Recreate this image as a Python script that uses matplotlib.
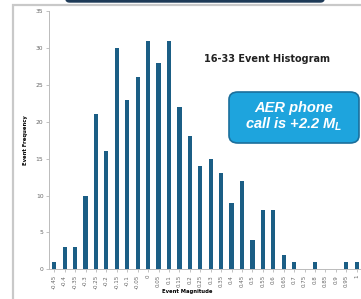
import matplotlib.pyplot as plt
import numpy as np
from matplotlib.patches import Rectangle, FancyBboxPatch

# data
magnitudes = ['-0.45', '-0.4', '-0.35', '-0.3', '-0.25', '-0.2', '-0.15', '-0.1', '-0.05', '0',
              '0.05', '0.1', '0.15', '0.2', '0.25', '0.3', '0.35', '0.4', '0.45', '0.5',
              '0.55', '0.6', '0.65', '0.7', '0.75', '0.8', '0.85', '0.9', '0.95', '1']
counts = [1, 3, 3, 10, 21, 16, 30, 23, 26, 31,
          28, 31, 22, 18, 14, 15, 13, 9, 12, 4,
          8, 8, 2, 1, 0, 1, 0, 0, 1, 1]
yticks = [0, 5, 10, 15, 20, 25, 30, 35]

plt.rcParams['mathtext.fontset'] = 'custom'
plt.rcParams['mathtext.it'] = 'Liberation Sans:italic:bold'
plt.rcParams['mathtext.rm'] = 'Liberation Sans:italic:bold'

W, H = 361, 299
fig = plt.figure(figsize=(W / 100, H / 100), dpi=100)
fig.patch.set_facecolor('white')

# outer frame and the navy box cut off at the top
fig.patches.append(Rectangle((13 / W, -0.05), 1.0, 1 - 5 / H + 0.05, transform=fig.transFigure,
                             fill=False, edgecolor='#c9c9c9', lw=1.6))
fig.patches.append(FancyBboxPatch((66 / W, 1 - 2 / H), 258 / W, 0.05,
                                  boxstyle='round,pad=0,rounding_size=0.01',
                                  transform=fig.transFigure, facecolor='#1d3a57',
                                  edgecolor='#1d3a57'))

ax = fig.add_axes([49 / W, (H - 269.3) / H, (362 - 49) / W, 258.3 / H])
x = np.arange(len(magnitudes))
ax.bar(x, counts, width=0.4, color='#1b5e85')
ax.set_xlim(-0.5, len(magnitudes) - 0.5)
ax.set_ylim(0, 35)
ax.set_yticks(yticks)
ax.set_yticklabels([str(v) for v in yticks], fontsize=4.3, color='#666666')
ax.set_xticks(x)
ax.set_xticklabels(magnitudes, rotation=90, fontsize=4.0, color='#666666')
ax.tick_params(axis='both', length=2, width=0.5, color='#aaaaaa', pad=2)
for s in ['top', 'right']:
    ax.spines[s].set_visible(False)
for s in ['left', 'bottom']:
    ax.spines[s].set_color('#bbbbbb')
    ax.spines[s].set_linewidth(0.7)

fig.text(25 / W, 1 - 140 / H, 'Event Frequency', rotation=90, ha='center', va='center',
         fontsize=3.8, fontweight='bold')
fig.text(187 / W, 1 - 292 / H, 'Event Magnitude', ha='center', va='center',
         fontsize=3.8, fontweight='bold')

fig.text(267 / W, 1 - 59 / H, '16-33 Event Histogram', ha='center', va='center',
         fontsize=7, fontweight='bold', color='#222222')

fig.patches.append(FancyBboxPatch((229 / W, 1 - 143 / H), 130 / W, 51 / H,
                                  boxstyle='round,pad=0,rounding_size=0.025',
                                  transform=fig.transFigure, facecolor='#1ea4dd',
                                  edgecolor='#1b6f9c', lw=1.2))
fig.text(294 / W, 1 - 117 / H, 'AER phone\ncall is +2.2 $M_L$', ha='center', va='center',
         fontsize=10.5, style='italic', fontweight='bold', color='white',
         family='Liberation Sans', linespacing=1.05)

fig.savefig('out.png', dpi=100)
